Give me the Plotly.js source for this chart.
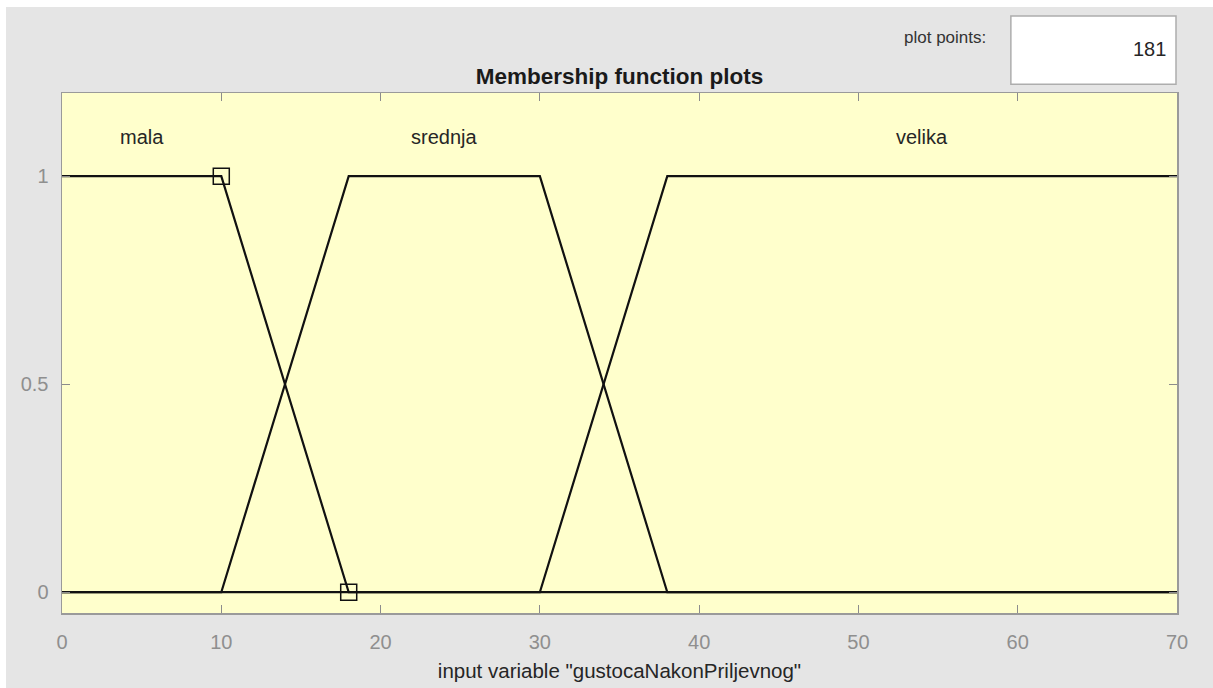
<!DOCTYPE html>
<html>
<head>
<meta charset="utf-8">
<script src="https://cdn.plot.ly/plotly-3.0.1.min.js"></script>
<style>
  html, body { margin: 0; padding: 0; background: #ffffff; width: 1213px; height: 688px; overflow: hidden; }
  #chart { position: absolute; left: 6px; top: 7px; width: 1207px; height: 681px; }
</style>
</head>
<body>
<div id="chart"></div>
<script>
// ---- data ----
const xRange = [0, 70];
const yRange = [-0.05, 1.2];
const xTicks = [0, 10, 20, 30, 40, 50, 60, 70];
const yTicks = [0, 0.5, 1];
const yTickText = ['0', '0.5', '1'];

const mfNames = ['mala', 'srednja', 'velika'];
const malaX = [0, 10, 18, 70];
const malaY = [1, 1, 0, 0];
const srednjaX = [0, 10, 18, 30, 38, 70];
const srednjaY = [0, 0, 1, 1, 0, 0];
const velikaX = [0, 30, 38, 70];
const velikaY = [0, 0, 1, 1];
const labelX = [5, 24, 54];
const labelY = [1.1, 1.1, 1.1];
// parameter markers of the selected function (mala)
const selX = [10, 18];
const selY = [1, 0];
const plotPoints = '181';
const inputName = 'gustocaNakonPriljevnog';

const lineStyle = { color: '#111111', width: 2.2 };
const traces = [
  { x: malaX, y: malaY, name: mfNames[0] },
  { x: srednjaX, y: srednjaY, name: mfNames[1] },
  { x: velikaX, y: velikaY, name: mfNames[2] }
].map(t => Object.assign(t, { type: 'scatter', mode: 'lines', line: lineStyle, hoverinfo: 'x+y+name' }));

traces.push({
  type: 'scatter', mode: 'markers', x: selX, y: selY, name: 'params',
  marker: { symbol: 'square-open', size: 16, color: '#111111', line: { width: 1.5, color: '#111111' } },
  hoverinfo: 'x+y'
});

const FONT = 'Liberation Sans, Arial, sans-serif';
const annotations = mfNames.map((n, i) => ({
  x: labelX[i], y: labelY[i], xref: 'x', yref: 'y', text: n, showarrow: false, yshift: -2,
  font: { family: FONT, size: 20, color: '#262626' }, xanchor: 'center', yanchor: 'middle'
}));
// plot-points control (paper coordinates)
annotations.push({
  x: 0.792, y: 1.107, xref: 'paper', yref: 'paper', text: 'plot points:', showarrow: false,
  font: { family: FONT, size: 17, color: '#333333' }, xanchor: 'center', yanchor: 'middle'
});
annotations.push({
  x: 0.992, y: 1.0855, xref: 'paper', yref: 'paper', text: plotPoints, showarrow: false,
  font: { family: FONT, size: 20, color: '#262626' }, xanchor: 'right', yanchor: 'middle'
});

const layout = {
  width: 1207, height: 681,
  margin: { l: 56, r: 36, t: 86, b: 75 },
  paper_bgcolor: '#e5e5e5',
  plot_bgcolor: '#ffffcc',
  showlegend: false,
  font: { family: FONT, size: 20, color: '#8c8c8c' },
  title: {
    text: '<b>Membership function plots</b>',
    x: 0.5, xref: 'paper', xanchor: 'center',
    y: 0.8987, yref: 'container', yanchor: 'middle',
    font: { family: FONT, size: 22.5, color: '#1a1a1a' }
  },
  xaxis: {
    range: xRange, tickvals: xTicks, ticks: 'inside', ticklen: 8, tickwidth: 1, tickcolor: '#8c8c8c',
    showline: true, linecolor: '#9a9a9a', linewidth: 1.5, mirror: 'allticks', showgrid: false, zeroline: false,
    ticklabelstandoff: 10,
    tickfont: { family: FONT, size: 20, color: '#8f8f8f' },
    title: { text: 'input variable "' + inputName + '"', standoff: 12, font: { family: FONT, size: 20.5, color: '#262626' } }
  },
  yaxis: {
    range: yRange, tickvals: yTicks, ticktext: yTickText, ticks: 'inside', ticklen: 8, tickwidth: 1, tickcolor: '#8c8c8c',
    showline: true, linecolor: '#9a9a9a', linewidth: 1.5, mirror: 'allticks', showgrid: false, zeroline: false,
    ticklabelstandoff: 8,
    tickfont: { family: FONT, size: 20, color: '#8f8f8f' }
  },
  shapes: [{
    type: 'rect', xref: 'paper', yref: 'paper',
    x0: 0.851, x1: 0.9991, y0: 1.017, y1: 1.148,
    fillcolor: '#ffffff', line: { color: '#adadad', width: 1.5 }, layer: 'below'
  }],
  annotations: annotations
};

Plotly.newPlot('chart', traces, layout, { displayModeBar: false, staticPlot: true });
</script>
</body>
</html>
